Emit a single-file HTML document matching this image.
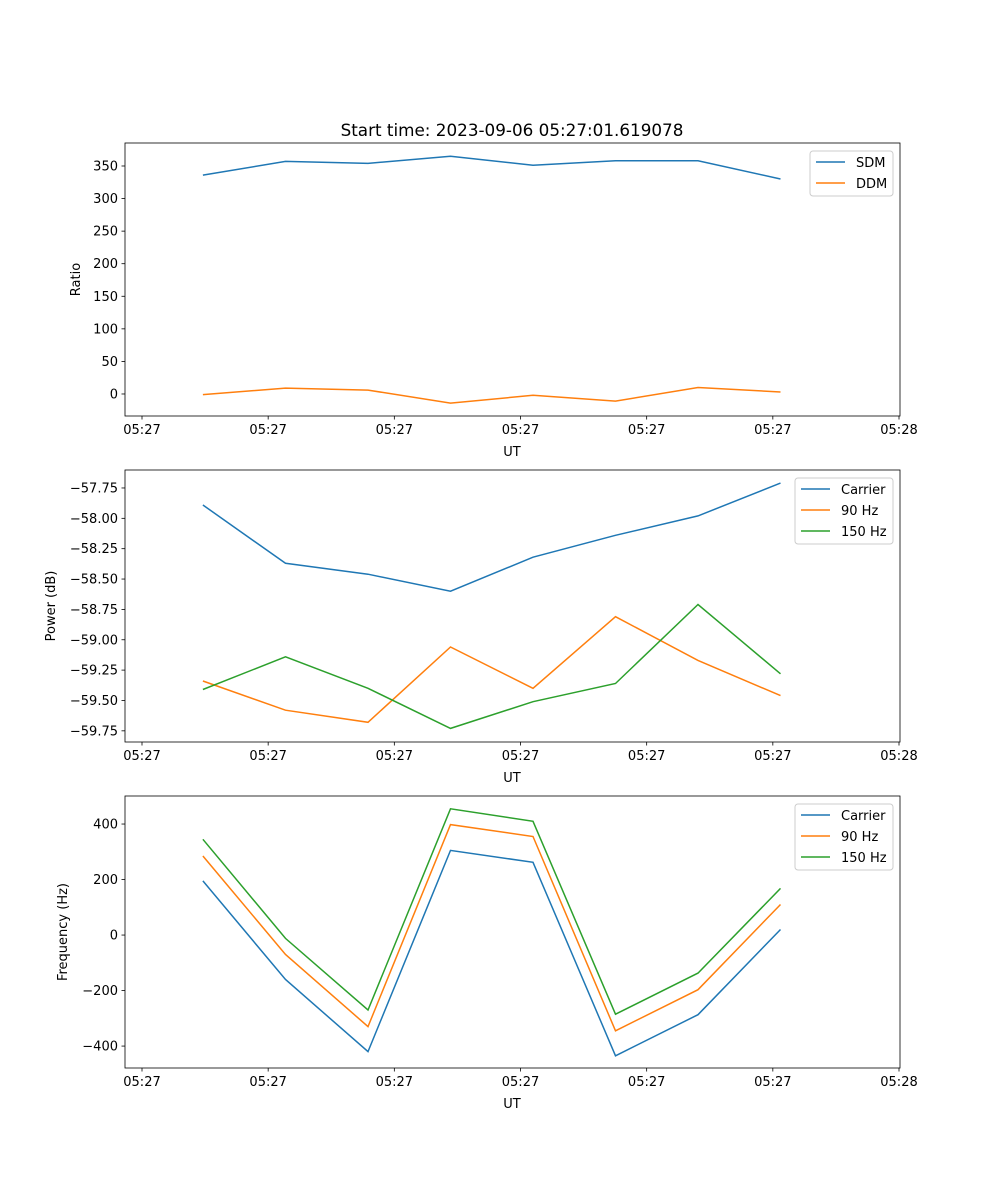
<!DOCTYPE html>
<html><head><meta charset="utf-8"><style>
body{margin:0;background:#fff}
svg{display:block;font-family:"DejaVu Sans","Liberation Sans",sans-serif}
</style></head><body>
<svg id="fig" width="1000" height="1200" xmlns="http://www.w3.org/2000/svg">
<rect width="1000" height="1200" fill="#fff"/>
<text x="512" y="136" text-anchor="middle" font-size="16.8">Start time: 2023-09-06 05:27:01.619078</text>
</svg>
<script>
// shared time axis (seconds after 05:27:00)
const times = [4.83, 11.37, 17.91, 24.45, 30.99, 37.53, 44.07, 50.61];
const xTickSecs = [0, 10, 20, 30, 40, 50, 60];
const xTickLabels = ["05:27","05:27","05:27","05:27","05:27","05:27","05:28"];
// panel 1
const sdm = [336, 357, 354, 365, 351, 358, 358, 330];
const ddm = [-1, 9, 6, -14, -2, -11, 10, 3];
const ratioTicks = [0, 50, 100, 150, 200, 250, 300, 350];
// panel 2
const pwrCarrier = [-57.89, -58.37, -58.46, -58.60, -58.32, -58.14, -57.98, -57.71];
const pwr90 = [-59.34, -59.58, -59.68, -59.06, -59.40, -58.81, -59.17, -59.46];
const pwr150 = [-59.41, -59.14, -59.40, -59.73, -59.51, -59.36, -58.71, -59.28];
const pwrTicks = [-57.75, -58.00, -58.25, -58.50, -58.75, -59.00, -59.25, -59.50, -59.75];
// panel 3
const frqCarrier = [195, -160, -420, 305, 262, -435, -287, 20];
const frq90 = [285, -70, -330, 398, 355, -345, -197, 110];
const frq150 = [345, -12, -270, 455, 410, -285, -137, 168];
const frqTicks = [-400, -200, 0, 200, 400];

const NS = "http://www.w3.org/2000/svg";
const svg = document.getElementById('fig');
function el(tag, attrs, parent){const e=document.createElementNS(NS,tag);for(const k in attrs)e.setAttribute(k,attrs[k]);(parent||svg).appendChild(e);return e;}
const L=125,R=900;
function xs(t){return 142+(t/60)*(899-142);}
const C=["#1f77b4","#ff7f0e","#2ca02c"];

function panel(name, top, bottom, ymin, ymax, ticks, fmt, ylabel, series, names, legend){
  const g=el('g',{});
  
  
  const ys=v=>bottom-(v-ymin)/(ymax-ymin)*(bottom-top);
  series.forEach((s,i)=>{
    const p=el('polyline',{points:s.map((v,j)=>xs(times[j]).toFixed(1)+","+ys(v).toFixed(1)).join(" "),fill:"none",stroke:C[i],"stroke-width":1.5},g);
    
    
  });
  el('rect',{x:L,y:top,width:R-L,height:bottom-top,fill:"none",stroke:"#000","stroke-width":0.8},g);
  xTickSecs.forEach((t,i)=>{
    const x=xs(t);
    el('line',{x1:x,x2:x,y1:bottom,y2:bottom+3.5,stroke:"#000","stroke-width":0.8},g);
    const tx=el('text',{x:x,y:bottom+18,"text-anchor":"middle","font-size":"13"},g);tx.textContent=xTickLabels[i];
    
    
  });
  ticks.forEach(v=>{
    const y=ys(v);
    el('line',{x1:L-3.5,x2:L,y1:y,y2:y,stroke:"#000","stroke-width":0.8},g);
    const tx=el('text',{x:L-7,y:y+4.5,"text-anchor":"end","font-size":"13"},g);tx.textContent=fmt(v);
    
    
  });
  const xl=el('text',{x:512,y:bottom+40,"text-anchor":"middle","font-size":"13"},g);xl.textContent="UT";
  
  
  const yx=legend.ylx;
  const yl=el('text',{x:yx,y:(top+bottom)/2,"text-anchor":"middle","font-size":"13",transform:`rotate(-90 ${yx} ${(top+bottom)/2})`},g);yl.textContent=ylabel;
  
  
  const lg=el('g',{},g);
  
  
  const h=names.length*21+3;
  el('rect',{x:legend.x,y:top+8,width:R-7-legend.x,height:h,rx:3,fill:"#fff",stroke:"#ccc","stroke-width":1},lg);
  names.forEach((n,i)=>{
    const y=top+19+i*21;
    el('line',{x1:legend.x+6,x2:legend.x+35,y1:y,y2:y,stroke:C[i],"stroke-width":1.5},lg);
    const t=el('text',{x:legend.x+46,y:y+5,"font-size":"13"},lg);t.textContent=n;
    
    
  });
}
panel('ratio-panel',143,416,-33.8,385.3,ratioTicks,v=>String(v),"Ratio",[sdm,ddm],["SDM","DDM"],{x:810,ylx:80});
panel('power-panel',470,742,-59.842,-57.602,pwrTicks,v=>(v<0?"\u2212":"")+Math.abs(v).toFixed(2),"Power (dB)",[pwrCarrier,pwr90,pwr150],["Carrier","90 Hz","150 Hz"],{x:795,ylx:55});
panel('frequency-panel',796,1068,-479,501,frqTicks,v=>(v<0?"\u2212":"")+Math.abs(v),"Frequency (Hz)",[frqCarrier,frq90,frq150],["Carrier","90 Hz","150 Hz"],{x:795,ylx:67});
</script>
</body></html>
